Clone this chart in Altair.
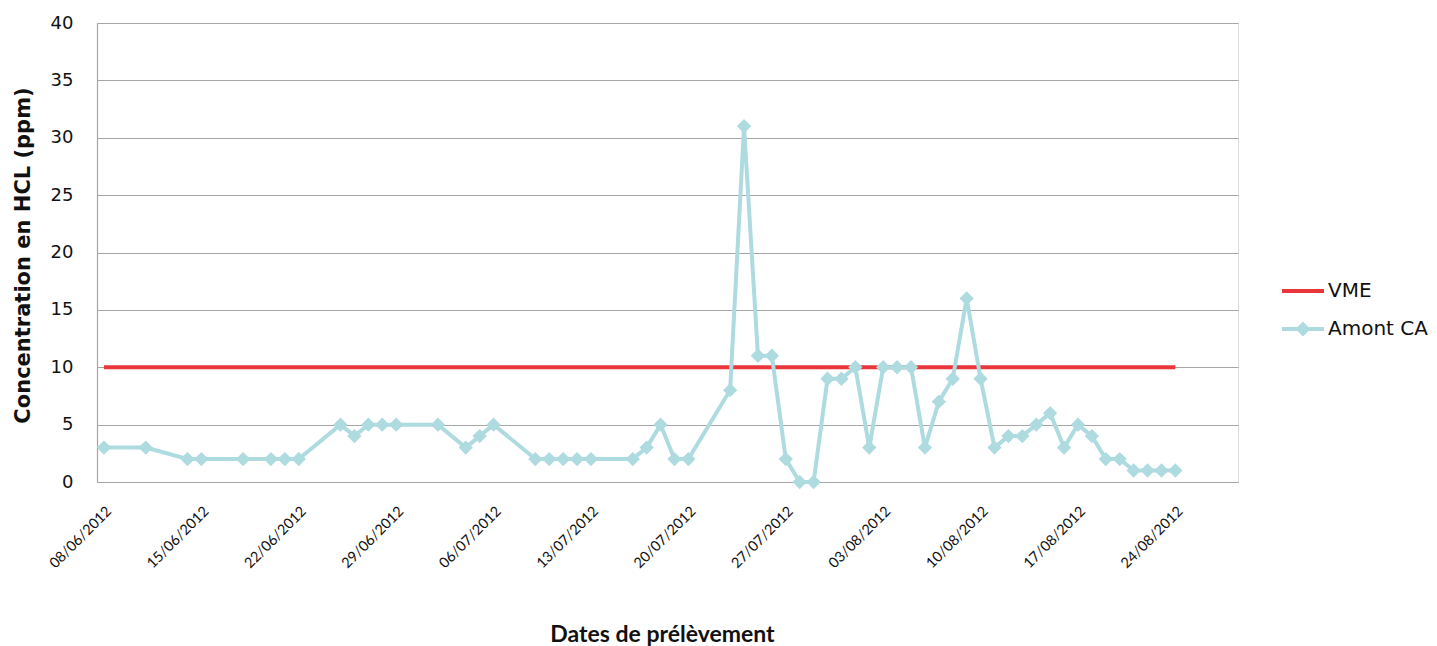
import altair as alt
import pandas as pd

# ---- data ----
dates = [
    "2012-06-08", "2012-06-11", "2012-06-14", "2012-06-15", "2012-06-18", "2012-06-20",
    "2012-06-21", "2012-06-22", "2012-06-25", "2012-06-26", "2012-06-27", "2012-06-28",
    "2012-06-29", "2012-07-02", "2012-07-04", "2012-07-05", "2012-07-06", "2012-07-09",
    "2012-07-10", "2012-07-11", "2012-07-12", "2012-07-13", "2012-07-16", "2012-07-17",
    "2012-07-18", "2012-07-19", "2012-07-20", "2012-07-23", "2012-07-24", "2012-07-25",
    "2012-07-26", "2012-07-27", "2012-07-28", "2012-07-29", "2012-07-30", "2012-07-31",
    "2012-08-01", "2012-08-02", "2012-08-03", "2012-08-04", "2012-08-05", "2012-08-06",
    "2012-08-07", "2012-08-08", "2012-08-09", "2012-08-10", "2012-08-11", "2012-08-12",
    "2012-08-13", "2012-08-14", "2012-08-15", "2012-08-16", "2012-08-17", "2012-08-18",
    "2012-08-19", "2012-08-20", "2012-08-21", "2012-08-22", "2012-08-23", "2012-08-24",
]
amont_ca = [
    3, 3, 2, 2, 2, 2,
    2, 2, 5, 4, 5, 5,
    5, 5, 3, 4, 5, 2,
    2, 2, 2, 2, 2, 3,
    5, 2, 2, 8, 31, 11,
    11, 2, 0, 0, 9, 9,
    10, 3, 10, 10, 10, 3,
    7, 9, 16, 9, 3, 4,
    4, 5, 6, 3, 5, 4,
    2, 2, 1, 1, 1, 1,
]
vme_dates = ["2012-06-08", "2012-08-24"]
vme_values = [10, 10]

series_names = ["VME", "Amont CA"]
series_colors = ["#E9363B", "#ADDBE0"]

tick_dates = [
    (2012, 6, 8), (2012, 6, 15), (2012, 6, 22), (2012, 6, 29), (2012, 7, 6), (2012, 7, 13),
    (2012, 7, 20), (2012, 7, 27), (2012, 8, 3), (2012, 8, 10), (2012, 8, 17), (2012, 8, 24),
]
y_ticks = [0, 5, 10, 15, 20, 25, 30, 35, 40]

# ---- table ----
rows = []
for d, v in zip(vme_dates, vme_values):
    rows.append({"date": d + "T00:00:00", "value": v, "series": "VME"})
for d, v in zip(dates, amont_ca):
    rows.append({"date": d + "T00:00:00", "value": v, "series": "Amont CA"})
df = pd.DataFrame(rows)

x_enc = alt.X(
    "date:T",
    scale=alt.Scale(domain=[alt.DateTime(year=2012, month=6, date=7, hours=12),
                            alt.DateTime(year=2012, month=8, date=28, hours=12)]),
    axis=alt.Axis(
        title="Dates de prélèvement",
        values=[alt.DateTime(year=y, month=m, date=d) for (y, m, d) in tick_dates],
        format="%d/%m/%Y",
        labelAngle=-45,
        labelFont="Lato",
        labelFontSize=14.5,
        labelColor="#111111",
        labelPadding=22,
        ticks=False,
        grid=False,
        domainColor="#A6A6A6",
        domainWidth=1.2,
        titleFont="Lato",
        titleFontSize=23,
        titleFontWeight="bold",
        titleColor="#111111",
        titleX=565,
        titleY=159,
        titleBaseline="alphabetic",
        titleAlign="center",
        titleAnchor="start",
    ),
)
y_enc = alt.Y(
    "value:Q",
    scale=alt.Scale(domain=[0, 40], nice=False),
    axis=alt.Axis(
        title="Concentration en HCL (ppm)",
        values=y_ticks,
        labelFont="DejaVu Sans",
        labelFontSize=18,
        labelColor="#111111",
        labelPadding=24,
        ticks=False,
        grid=True,
        gridColor="#A6A6A6",
        gridWidth=1.2,
        domainColor="#A6A6A6",
        domainWidth=1.2,
        titleFont="DejaVu Sans",
        titleFontSize=21,
        titleFontWeight="bold",
        titleColor="#111111",
        titleAngle=270,
        titleX=-74,
        titleY=232,
        titleBaseline="middle",
        titleAlign="center",
        titleAnchor="start",
    ),
)

legend = alt.Legend(
    title=None,
    orient="none",
    legendX=1183,
    legendY=245,
    padding=0,
    symbolType=alt.ExprRef(expr="datum.value == 'VME' ? 'M-1,0H1' : 'M-1,0H1M0,-0.22L0.22,0L0,0.22L-0.22,0Z'"),
    symbolFillColor=alt.ExprRef(expr="datum.value == 'VME' ? 'transparent' : '#ADDBE0'"),
    symbolSize=1764,
    symbolStrokeWidth=4,
    labelFont="DejaVu Sans",
    labelFontSize=20,
    labelColor="#111111",
    labelOffset=2,
    rowPadding=5,
)

lines = alt.Chart(df).mark_line(strokeWidth=4).encode(
    x=x_enc,
    y=y_enc,
    color=alt.Color("series:N", scale=alt.Scale(domain=series_names, range=series_colors), legend=legend),
    detail="series:N",
)

points = alt.Chart(df).transform_filter(alt.datum.series == "Amont CA").mark_point(
    shape="diamond", filled=True, size=205, opacity=1, color=series_colors[1]
).encode(x=x_enc, y=y_enc)

chart = (
    alt.layer(lines, points)
    .properties(width=1141, height=459, autosize=alt.AutoSizeParams(type="none"),
                padding={"left": 89, "top": 15, "right": 191, "bottom": 164})
    .configure_view(stroke=None)
    .configure(background="white")
)

chart.save("out.html", embed_options={"renderer": "svg", "actions": False})
